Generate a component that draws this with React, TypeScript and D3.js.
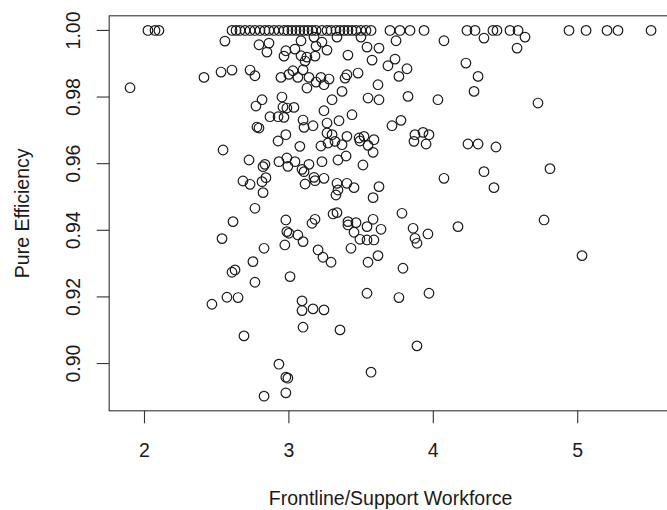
import React from 'react';
import * as d3 from 'd3';

// Units on the efficient frontier (Pure Efficiency = 1.00)
const frontierRatio = [
  2.024, 2.073, 2.100, 2.606, 2.634, 2.661, 2.696, 2.731, 2.765, 2.800,
  2.834, 2.862, 2.897, 2.931, 2.966, 2.993, 3.021, 3.049, 3.076, 3.105,
  3.132, 3.160, 3.188, 3.229, 3.264, 3.292, 3.326, 3.354, 3.382, 3.409,
  3.437, 3.465, 3.499, 3.534, 3.569, 3.700, 3.769, 3.839, 3.936, 4.233,
  4.289, 4.413, 4.441, 4.531, 4.587, 4.940, 5.058, 5.203, 5.279, 5.508,
];

// Remaining units: Frontline/Support ratio and Pure Efficiency
const ratio = [
  1.900, 2.557, 2.793, 2.862, 2.848, 2.979, 2.966, 2.412, 2.530, 2.606,
  2.731, 2.765, 2.945, 3.000, 2.814, 2.772, 2.952, 2.959, 2.986, 2.869,
  2.925, 2.966, 2.779, 2.793, 2.925, 2.979, 2.544,
  3.084, 3.174, 3.229, 3.333, 3.499, 3.742, 4.074,
  3.042, 3.188, 3.264, 3.541, 3.624, 3.084, 3.125, 3.181, 3.409, 3.576, 3.735,
  3.112, 3.028, 3.098,
  3.062, 3.139, 3.222, 3.278, 3.402, 3.389, 3.479, 3.686, 3.762, 3.818, 4.226, 4.310,
  3.125, 3.188, 3.243, 3.368, 3.617, 4.282, 3.299, 3.548, 3.624, 3.825, 4.032,
  3.035, 3.243, 3.437, 3.098, 3.105, 3.167, 3.264, 3.347, 3.714, 3.776,
  3.264, 3.299, 3.402, 3.486, 3.520, 3.589, 3.873, 3.929, 3.970,
  3.076, 3.271, 3.319, 3.368, 3.548, 3.866, 3.950, 4.240, 4.310,
  4.351, 4.635, 4.580, 4.725, 4.434,
  2.724, 2.834, 2.821, 2.931, 2.993, 2.986, 2.682, 2.731, 2.814, 2.841,
  2.821, 2.765, 2.613, 2.537, 2.979, 2.986, 3.000, 2.972, 2.828, 2.751,
  3.222, 3.492, 3.583, 3.396, 3.340, 3.229, 3.513, 3.042, 3.091, 3.105,
  3.139, 3.174, 3.181, 3.243, 3.112, 3.333, 3.402, 3.451, 3.624, 3.340,
  3.326, 3.583, 4.074, 3.783, 3.306, 3.333, 3.181, 3.160, 3.409, 3.465,
  3.409, 3.583, 3.541, 3.638, 3.860, 3.963, 4.171, 3.873, 3.887, 3.062,
  3.098, 3.451, 3.492, 3.541, 3.589, 3.202, 3.236, 3.292, 3.430, 3.548,
  3.617, 3.790,
  4.351, 4.420, 4.808, 4.767, 5.030, 2.606, 2.627, 2.765, 2.571, 2.648,
  2.467, 2.689, 2.931, 2.979, 2.993, 2.828, 2.979, 3.008, 3.541, 3.762,
  3.970, 3.091, 3.091, 3.167, 3.243, 3.098, 3.354, 3.887, 3.569,
];

const efficiency = [
  0.9828, 0.9968, 0.9957, 0.9962, 0.9935, 0.9939, 0.9923, 0.9859, 0.9875, 0.9881,
  0.9881, 0.9864, 0.9859, 0.9868, 0.9792, 0.9773, 0.9800, 0.9770, 0.9767, 0.9741,
  0.9741, 0.9739, 0.9710, 0.9707, 0.9668, 0.9687, 0.9641,
  0.9969, 0.9980, 0.9965, 0.9980, 0.9980, 0.9969, 0.9969,
  0.9944, 0.9953, 0.9941, 0.9950, 0.9947, 0.9924, 0.9920, 0.9923, 0.9926, 0.9911, 0.9914,
  0.9908, 0.9879, 0.9882,
  0.9859, 0.9859, 0.9859, 0.9854, 0.9867, 0.9857, 0.9872, 0.9894, 0.9862, 0.9885, 0.9902, 0.9862,
  0.9827, 0.9845, 0.9837, 0.9817, 0.9837, 0.9817, 0.9792, 0.9797, 0.9792, 0.9802, 0.9792,
  0.9769, 0.9759, 0.9747, 0.9731, 0.9709, 0.9714, 0.9722, 0.9729, 0.9714, 0.9730,
  0.9692, 0.9687, 0.9682, 0.9677, 0.9682, 0.9672, 0.9687, 0.9694, 0.9687,
  0.9652, 0.9662, 0.9667, 0.9657, 0.9655, 0.9667, 0.9659, 0.9659, 0.9659,
  0.9977, 0.9980, 0.9947, 0.9782, 0.9650,
  0.9611, 0.9598, 0.9591, 0.9606, 0.9592, 0.9617, 0.9548, 0.9538, 0.9546, 0.9558,
  0.9513, 0.9466, 0.9426, 0.9375, 0.9431, 0.9396, 0.9391, 0.9356, 0.9346, 0.9306,
  0.9653, 0.9668, 0.9634, 0.9623, 0.9611, 0.9606, 0.9596, 0.9606, 0.9583, 0.9576,
  0.9598, 0.9559, 0.9549, 0.9556, 0.9539, 0.9541, 0.9541, 0.9528, 0.9531, 0.9521,
  0.9506, 0.9498, 0.9556, 0.9451, 0.9449, 0.9453, 0.9433, 0.9421, 0.9426, 0.9423,
  0.9416, 0.9433, 0.9411, 0.9403, 0.9406, 0.9389, 0.9411, 0.9376, 0.9361, 0.9386,
  0.9366, 0.9394, 0.9373, 0.9371, 0.9371, 0.9341, 0.9319, 0.9304, 0.9346, 0.9304,
  0.9324, 0.9286,
  0.9576, 0.9528, 0.9585, 0.9431, 0.9324, 0.9274, 0.9281, 0.9244, 0.9199, 0.9198,
  0.9178, 0.9083, 0.8998, 0.8959, 0.8956, 0.8902, 0.8912, 0.9261, 0.9211, 0.9198,
  0.9211, 0.9188, 0.9159, 0.9164, 0.9161, 0.9109, 0.9101, 0.9053, 0.8974,
];

const xTicks = [2, 3, 4, 5];
const yTicks = [0.9, 0.92, 0.94, 0.96, 0.98, 1.0];
const xTitle = 'Frontline/Support Workforce';
const yTitle = 'Pure Efficiency';

type Pt = { x: number; y: number };

export default function App() {
  const W = 667;
  const H = 510;
  const left = 109.2;
  const right = 671.9;
  const top = 15.8;
  const bottom = 410.8;

  const points: Pt[] = [
    ...frontierRatio.map((v) => ({ x: v, y: 1.0 })),
    ...ratio.map((v, i) => ({ x: v, y: efficiency[i] })),
  ];

  const padR = (e: [number, number]): [number, number] => {
    const r = e[1] - e[0];
    return [e[0] - 0.04 * r, e[1] + 0.04 * r];
  };
  const xlim = padR(d3.extent(points, (d) => d.x) as [number, number]);
  const ylim = padR(d3.extent(points, (d) => d.y) as [number, number]);

  const x = d3.scaleLinear().domain(xlim).range([left, right]);
  const y = d3.scaleLinear().domain(ylim).range([bottom, top]);

  const font = "'Liberation Sans', Arial, Helvetica, sans-serif";
  const fs = 19.5;
  const ink = '#1a1a1a';

  return (
    <svg
      width={W}
      height={H}
      style={{ position: 'absolute', left: 0, top: 0, background: '#fff' }}
      fontFamily={font}
    >
      <rect x={0} y={0} width={W} height={H} fill="#fff" />
      {/* plot box */}
      <rect
        x={x.range()[0]}
        y={y.range()[1]}
        width={x.range()[1] - x.range()[0]}
        height={y.range()[0] - y.range()[1]}
        fill="none"
        stroke="#333"
        strokeWidth={1.1}
      />
      {/* points */}
      {points.map((d, i) => (
        <circle
          key={i}
          cx={x(d.x)}
          cy={y(d.y)}
          r={4.8}
          fill="none"
          stroke={ink}
          strokeWidth={1.2}
        />
      ))}
      {/* x axis */}
      {xTicks.map((t) => (
        <g key={'x' + t}>
          <line x1={x(t)} x2={x(t)} y1={bottom} y2={bottom + 12.5} stroke="#333" strokeWidth={1.1} />
          <text x={x(t)} y={457} fontSize={fs} textAnchor="middle" fill={ink}>
            {String(t)}
          </text>
        </g>
      ))}
      {/* y axis */}
      {yTicks.map((t) => (
        <g key={'y' + t}>
          <line x1={left - 12.5} x2={left} y1={y(t)} y2={y(t)} stroke="#333" strokeWidth={1.1} />
          <text
            transform={`translate(80,${y(t)}) rotate(-90)`}
            fontSize={fs}
            textAnchor="middle"
            fill={ink}
          >
            {d3.format('.2f')(t)}
          </text>
        </g>
      ))}
      <text x={(left + right) / 2} y={505} fontSize={fs} textAnchor="middle" fill={ink}>
        {xTitle}
      </text>
      <text
        transform={`translate(29,${(top + bottom) / 2}) rotate(-90)`}
        fontSize={fs}
        textAnchor="middle"
        fill={ink}
      >
        {yTitle}
      </text>
    </svg>
  );
}
